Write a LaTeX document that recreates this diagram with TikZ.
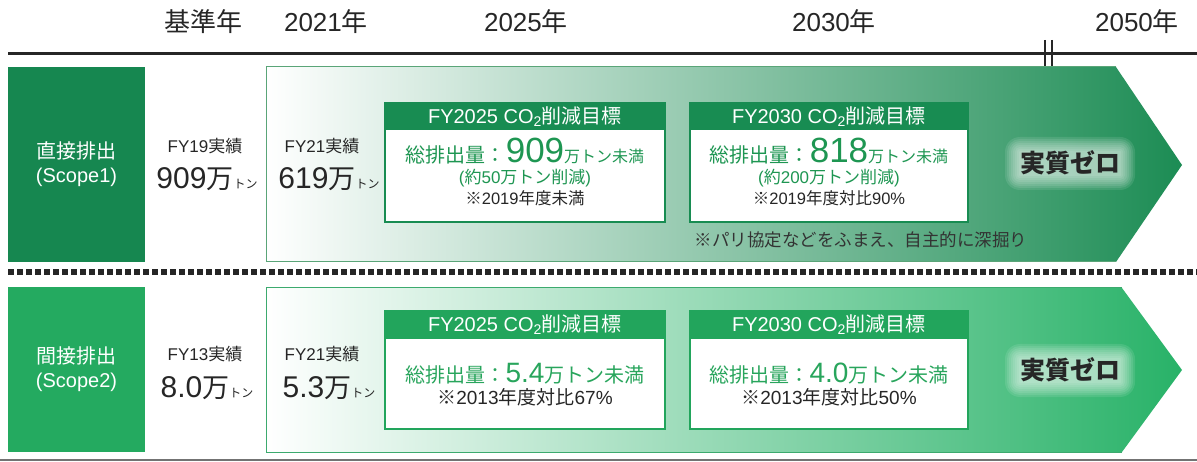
\documentclass[tikz,border=0pt]{standalone}
\usepackage{fontspec}
\setmainfont{Liberation Sans}
\newfontfamily\cjkfont{Noto Sans CJK JP}
\usepackage{tikz}

% switch to the CJK family for CJK characters
\XeTeXinterchartokenstate=1
\newXeTeXintercharclass\cjkclass
\newcount\cjkc
\def\setcjkrange#1#2{\cjkc=#1\relax
  \loop\XeTeXcharclass\cjkc=\cjkclass\ifnum\cjkc<#2\advance\cjkc by 1\repeat}
\setcjkrange{"3000}{"30FF}
\setcjkrange{"4E00}{"9FFF}
\setcjkrange{"FF00}{"FFEF}
\XeTeXinterchartoks 0 \cjkclass = {\begingroup\cjkfont}
\XeTeXinterchartoks 4095 \cjkclass = {\begingroup\cjkfont}
\XeTeXinterchartoks \cjkclass 0 = {\endgroup}
\XeTeXinterchartoks \cjkclass 4095 = {\endgroup}

\newcommand{\kome}{{\cjkfont ※}}
\newcommand{\tonsmall}{{\fontsize{12}{12}\selectfont トン}}

\definecolor{scopeA}{RGB}{22,135,80}
\definecolor{scopeB}{RGB}{36,170,96}
\definecolor{headA}{RGB}{24,140,82}
\definecolor{headB}{RGB}{34,165,92}
\definecolor{txtA}{RGB}{30,150,82}
\definecolor{txtB}{RGB}{40,165,92}
\definecolor{arrowA}{RGB}{28,140,84}
\definecolor{arrowB}{RGB}{40,178,104}
\definecolor{edgeA}{RGB}{90,165,120}
\definecolor{edgeB}{RGB}{60,170,110}

\tikzset{
  yearlabel/.style={font=\fontsize{26}{26}\selectfont, text=black!85},
  scopebox/.style={text=white, align=center, inner sep=0pt,
    font=\fontsize{20}{24}\selectfont},
  actlabel/.style={font=\fontsize{17}{17}\selectfont, text=black!85},
  actvalue/.style={font=\fontsize{30}{30}\selectfont, text=black!85},
  tgtbody/.style={draw, fill=white, line width=2pt, inner sep=0pt},
  tgthead/.style={text=white, inner sep=0pt, anchor=north,
    font=\fontsize{20}{20}\selectfont},
  tgtline/.style={font=\fontsize{16.5}{16.5}\selectfont, text=black!85},
  glowfill/.style={fill=white, fill opacity=0.1, rounded corners=#1},
  zerolabel/.style={font=\bfseries\fontsize{25}{25}\selectfont, text=black!85}
}

\begin{document}
\begin{tikzpicture}[x=1pt,y=-1pt]
    \useasboundingbox (0,0) rectangle (1197,462);

    % years
    \node [yearlabel] (ybase) at (203,22) {基準年};
    \node [yearlabel] (y21) at (326,22) {2021年};
    \node [yearlabel] (y25) at (526,22) {2025年};
    \node [yearlabel] (y30) at (834,22) {2030年};
    \node [yearlabel] (y50) at (1137,22) {2050年};

    \coordinate (axisl) at (8,54);
    \coordinate (axisr) at (1197,54);
    \draw [line width=3pt, black!85] (axisl) -- (axisr);
    \draw [line width=2.5pt, black!85] (1045,40) -- (1045,68);
    \draw [line width=2.5pt, black!85] (1052,40) -- (1052,68);

    % scope 1 row
    \shade [left color=white, middle color=arrowA!40, right color=arrowA]
        (266,67) -- (1116,67) -- (1182,165) -- (1116,262) -- (266,262) -- cycle;
    \draw [edgeA, line width=1pt]
        (1116,67) -- (266,67) -- (266,262) -- (1116,262);

    \node [scopebox, fill=scopeA, minimum width=137pt, minimum height=195pt]
        (s1) at (76.5,164.5) {直接排出\\(Scope1)};

    \node [actlabel] (fy19) at (205,146) {FY19実績};
    \node [actvalue] (v19) at (207,179) {909{\fontsize{27}{27}\selectfont 万}\tonsmall};
    \node [actlabel] (fy21a) at (322,146) {FY21実績};
    \node [actvalue] (v21a) at (329,179) {619{\fontsize{27}{27}\selectfont 万}\tonsmall};

    \node [tgtbody, draw=headA, minimum width=280pt, minimum height=119pt]
        (b25a) at (525,162.5) {};
    \node [tgthead, fill=headA, minimum width=281pt, minimum height=28pt]
        (h25a) at (b25a.north) {FY2025 CO\textsubscript{2}削減目標};
    \node [text=txtA] (m25a) at (525,151)
        {{\fontsize{20}{20}\selectfont 総排出量：}{\fontsize{35}{35}\selectfont 909}{\fontsize{16}{16}\selectfont 万トン未満}};
    \node [tgtline, text=txtA, font=\fontsize{17}{17}\selectfont] (r25a) at (525,178) {(約50万トン削減)};
    \node [tgtline] (n25a) at (525,198) {\kome 2019年度未満};

    \node [tgtbody, draw=headA, minimum width=278pt, minimum height=119pt]
        (b30a) at (829,162.5) {};
    \node [tgthead, fill=headA, minimum width=279pt, minimum height=28pt]
        (h30a) at (b30a.north) {FY2030 CO\textsubscript{2}削減目標};
    \node [text=txtA] (m30a) at (829,151)
        {{\fontsize{20}{20}\selectfont 総排出量：}{\fontsize{35}{35}\selectfont 818}{\fontsize{16}{16}\selectfont 万トン未満}};
    \node [tgtline, text=txtA, font=\fontsize{17}{17}\selectfont] (r30a) at (829,178) {(約200万トン削減)};
    \node [tgtline] (n30a) at (829,198) {\kome 2019年度対比90\%};

    \node [font=\fontsize{17.5}{17.5}\selectfont, text=black!80] (paris) at (861,240)
        {\kome パリ協定などをふまえ、自主的に深掘り};

    % soft white glow behind the 2050 label
    \foreach \r in {1,3,...,15} {
        \fill [glowfill=\r pt] ({1020-\r},{152-\r}) rectangle ({1120+\r},{175+\r});
    }
    \node [zerolabel] (z1) at (1070,163) {実質ゼロ};

    % separator
    \coordinate (sepl) at (8,272);
    \coordinate (sepr) at (1197,272);
    \draw [line width=6pt, black!85, dash pattern=on 6pt off 3pt] (sepl) -- (sepr);

    % scope 2 row
    \shade [left color=white, middle color=arrowB!40, right color=arrowB]
        (266,288) -- (1122,288) -- (1182,370) -- (1122,452) -- (266,452) -- cycle;
    \draw [edgeB, line width=1pt]
        (1122,288) -- (266,288) -- (266,452) -- (1122,452);

    \node [scopebox, fill=scopeB, minimum width=137pt, minimum height=165pt]
        (s2) at (76.5,369.5) {間接排出\\(Scope2)};

    \node [actlabel] (fy13) at (205,354) {FY13実績};
    \node [actvalue] (v13) at (207,388) {8.0{\fontsize{27}{27}\selectfont 万}\tonsmall};
    \node [actlabel] (fy21b) at (322,354) {FY21実績};
    \node [actvalue] (v21b) at (329,388) {5.3{\fontsize{27}{27}\selectfont 万}\tonsmall};

    \node [tgtbody, draw=headB, minimum width=280pt, minimum height=118pt]
        (b25b) at (525,370) {};
    \node [tgthead, fill=headB, minimum width=281pt, minimum height=29pt]
        (h25b) at (b25b.north) {FY2025 CO\textsubscript{2}削減目標};
    \node [text=txtB] (m25b) at (525,374)
        {{\fontsize{20}{20}\selectfont 総排出量：}{\fontsize{28}{28}\selectfont 5.4}{\fontsize{20}{20}\selectfont 万トン未満}};
    \node [tgtline, font=\fontsize{19}{19}\selectfont] (n25b) at (525,397) {\kome 2013年度対比67\%};

    \node [tgtbody, draw=headB, minimum width=278pt, minimum height=118pt]
        (b30b) at (829,370) {};
    \node [tgthead, fill=headB, minimum width=279pt, minimum height=29pt]
        (h30b) at (b30b.north) {FY2030 CO\textsubscript{2}削減目標};
    \node [text=txtB] (m30b) at (829,374)
        {{\fontsize{20}{20}\selectfont 総排出量：}{\fontsize{28}{28}\selectfont 4.0}{\fontsize{20}{20}\selectfont 万トン未満}};
    \node [tgtline, font=\fontsize{19}{19}\selectfont] (n30b) at (829,397) {\kome 2013年度対比50\%};

    \foreach \r in {1,3,...,15} {
        \fill [glowfill=\r pt] ({1020-\r},{359-\r}) rectangle ({1120+\r},{382+\r});
    }
    \node [zerolabel] (z2) at (1070,370) {実質ゼロ};

    \coordinate (footl) at (0,460);
    \coordinate (footr) at (1197,460);
    \draw [line width=2.5pt, black!55] (footl) -- (footr);
\end{tikzpicture}
\end{document}
